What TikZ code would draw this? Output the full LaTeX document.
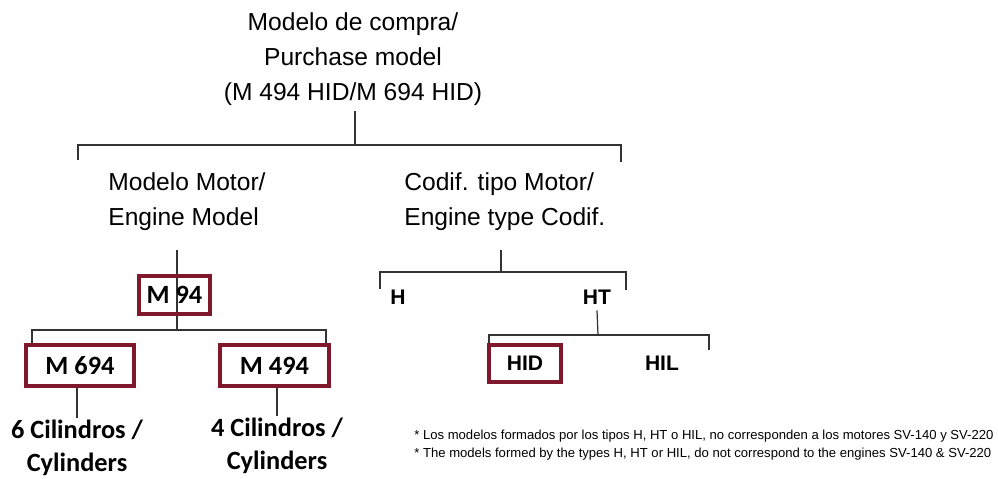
\documentclass[tikz,border=0pt]{standalone}
\usepackage{fontspec}
\setmainfont{Liberation Sans}
\newfontfamily\calibri{Carlito}
\usetikzlibrary{positioning}
\definecolor{boxred}{RGB}{128,24,44}

\begin{document}
\begin{tikzpicture}[
  x=0.02cm, y=-0.02cm,
  heading/.style={font=\fontsize{14}{20}\selectfont, align=left, inner sep=0pt},
  modelbox/.style={draw=boxred, line width=2pt, font=\calibri\bfseries\fontsize{15}{18}\selectfont},
  typebox/.style={draw=boxred, line width=2pt, font=\bfseries\fontsize{12}{14}\selectfont},
  typename/.style={font=\bfseries\fontsize{12}{14}\selectfont},
  cyl/.style={font=\calibri\bfseries\fontsize{15}{19}\selectfont, align=center, inner sep=1pt},
  link/.style={draw=black!80, line width=0.7pt},
  note/.style={font=\fontsize{7.45}{10.2}\selectfont, align=left, inner sep=0pt}
]
\useasboundingbox (0,0) rectangle (998,479);

% Purchase model
\node[heading, align=center, inner sep=3pt] (title) at (353,59)
  {Modelo de compra/\\Purchase model\\(M 494 HID/M 694 HID)};
\coordinate (j0) at (355,145);
\coordinate (b0l) at (78,160);
\coordinate (b0r) at (621,162);
\draw[link] (title.south -| j0) -- (j0);
\draw[link] (b0l) -- (b0l |- j0) -- (b0r |- j0) -- (b0r);

% Headings
\node[heading, anchor=west] (engmodel) at (108,202) {Modelo Motor/\\Engine Model};
\node[heading, anchor=west] (engtype) at (404,202) {Codif. tipo Motor/\\Engine type Codif.};

% Engine model branch
\coordinate (em) at (177,250);
\coordinate (j1) at (177,330);
\coordinate (b1l) at (32,345);
\coordinate (b1r) at (326,345);
\draw[link] (em) -- (j1);
\draw[link] (b1l) -- (b1l |- j1) -- (b1r |- j1) -- (b1r);

\node[modelbox, minimum width=1.42cm, minimum height=0.76cm] (m94) at (174.5,295) {M 94};
\node[modelbox, minimum width=2.16cm, minimum height=0.82cm] (m694) at (80,365.5) {M 694};
\node[modelbox, minimum width=2.18cm, minimum height=0.82cm] (m494) at (274.5,365.5) {M 494};

\node[cyl] (cyl6) at (77,448) {6 Cilindros /\\Cylinders};
\node[cyl] (cyl4) at (277,446) {4 Cilindros /\\Cylinders};
\draw[link] (cyl6.north |- m694.south) -- (cyl6.north);
\draw[link] (cyl4.north |- m494.south) -- (cyl4.north);

% Engine type branch
\coordinate (ec) at (501,250);
\coordinate (j2) at (501,272);
\coordinate (b2l) at (380,289);
\coordinate (b2r) at (626,290);
\draw[link] (ec) -- (j2);
\draw[link] (b2l) -- (b2l |- j2) -- (b2r |- j2) -- (b2r);

\node[typename] (h) at (398,297) {H};
\node[typename] (ht) at (597,297) {HT};

\coordinate (j3) at (598,335);
\coordinate (b3l) at (489,345);
\coordinate (b3r) at (709,350);
\draw[link] (ht.south) -- (j3);
\draw[link] (b3l) -- (b3l |- j3) -- (b3r |- j3) -- (b3r);

\node[typebox, minimum width=1.44cm, minimum height=0.74cm] (hid) at (525,363.5) {HID};
\node[typename] (hil) at (662,363) {HIL};

% Footnote
\node[note, anchor=west] (notes) at (414,445)
  {* Los modelos formados por los tipos H, HT o HIL, no corresponden a los motores SV-140 y SV-220\\
   * The models formed by the types H, HT or HIL, do not correspond to the engines SV-140 \& SV-220};

\end{tikzpicture}
\end{document}
